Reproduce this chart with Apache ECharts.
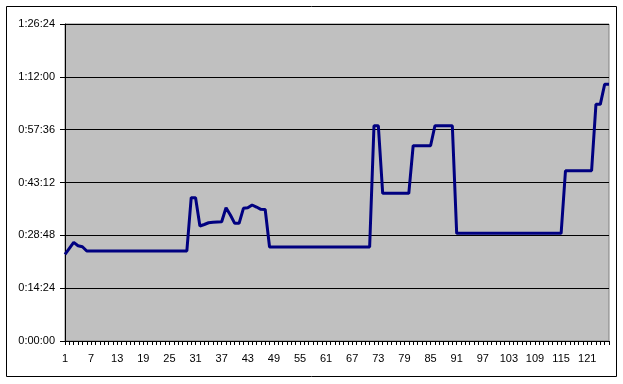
<!DOCTYPE html>
<html>
<head>
<meta charset="utf-8">
<script src="https://cdn.jsdelivr.net/npm/echarts@6/dist/echarts.min.js"></script>
<style>
html,body{margin:0;padding:0;background:#fff;}
#c{width:623px;height:384px;}
</style>
</head>
<body>
<div id="c"></div>
<script>
// Category labels (observation number)
const categories = Array.from({length: 126}, (_, i) => String(i + 1));

// Duration values in seconds
const seconds = [
  1418, 1516, 1614, 1558, 1542,
  1472, 1472, 1472, 1472, 1472, 1472, 1472, 1472,
  1472, 1472, 1472, 1472, 1472, 1472, 1472, 1472,
  1472, 1472, 1472, 1472, 1472, 1472, 1472, 1472,
  2343, 2343,
  1880, 1905, 1934, 1941, 1946, 1950, 2179, 2060,
  1924, 1924, 2170, 2179, 2224, 2191, 2153, 2150,
  1537, 1537, 1537, 1537, 1537, 1537, 1537, 1537,
  1537, 1537, 1537, 1537, 1537, 1537, 1537, 1537,
  1537, 1537, 1537, 1537, 1537, 1537, 1537, 1537,
  3520, 3520,
  2415, 2415, 2415, 2415, 2415, 2415, 2415,
  3193, 3193, 3193, 3193, 3193,
  3520, 3520, 3520, 3520, 3520,
  1761, 1761, 1761, 1761, 1761,
  1761, 1761, 1761, 1761, 1761,
  1761, 1761, 1761, 1761, 1761,
  1761, 1761, 1761, 1761, 1761,
  1761, 1761, 1761, 1761, 1761,
  2784, 2784, 2784, 2784, 2784, 2784, 2784,
  3870, 3870,
  4197, 4197
];

// Y axis: 0:00:00 to 1:26:24 in steps of 0:14:24
const yMin = 0;
const yMax = 5184;
const yStep = 864;
const labelEvery = 6;

function fmt(v) {
  const h = Math.floor(v / 3600);
  const m = Math.floor((v % 3600) / 60);
  const s = Math.round(v % 60);
  return h + ':' + String(m).padStart(2, '0') + ':' + String(s).padStart(2, '0');
}

const chart = echarts.init(document.getElementById('c'), null, {renderer: 'canvas'});
const font = 'Arial, "Liberation Sans", sans-serif';
chart.setOption({
  animation: false,
  backgroundColor: '#ffffff',
  grid: {
    left: 65, right: 14, top: 24, bottom: 43,
    show: true, backgroundColor: '#C0C0C0', borderColor: '#808080', borderWidth: 1
  },
  graphic: [{
    type: 'rect',
    shape: {x: 6.5, y: 6.5, width: 610, height: 370},
    style: {fill: 'none', stroke: '#000', lineWidth: 1},
    silent: true, z: -1
  }],
  xAxis: {
    type: 'category',
    data: categories,
    boundaryGap: false,
    axisLine: {show: true, lineStyle: {color: '#000', width: 1}},
    axisTick: {show: true, interval: 0, length: 4, lineStyle: {color: '#000'}},
    axisLabel: {
      interval: function (idx) { return idx % labelEvery === 0; },
      hideOverlap: false,
      margin: 12, color: '#000', fontSize: 11, fontFamily: font
    },
    splitLine: {show: false}
  },
  yAxis: {
    type: 'value',
    min: yMin, max: yMax, interval: yStep,
    axisLine: {show: true, lineStyle: {color: '#000', width: 1}},
    axisTick: {show: true, length: 5, lineStyle: {color: '#000'}},
    axisLabel: {margin: 10, color: '#000', fontSize: 11, fontFamily: font, formatter: fmt},
    splitLine: {show: true, lineStyle: {color: '#000', width: 1}}
  },
  series: [{
    type: 'line',
    data: seconds,
    showSymbol: false,
    symbol: 'none',
    lineStyle: {color: '#000080', width: 3},
    itemStyle: {color: '#000080'}
  }]
});
</script>
</body>
</html>
